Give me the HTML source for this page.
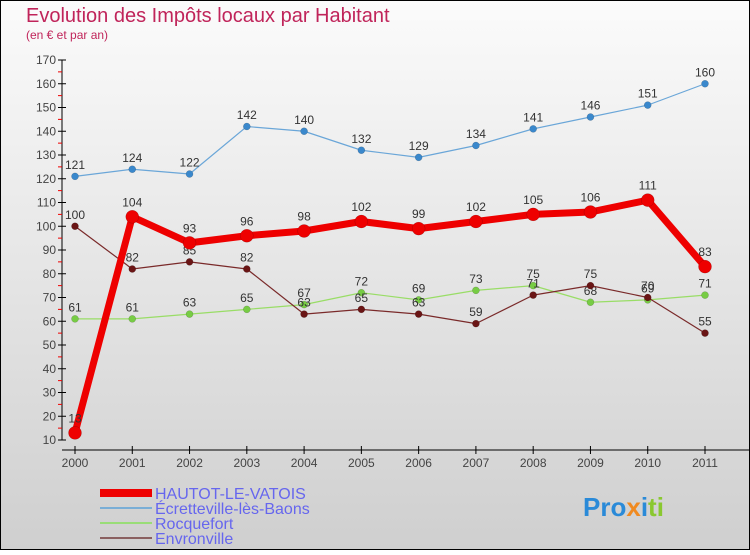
<!DOCTYPE html>
<html><head><meta charset="utf-8"><style>
body{margin:0}
#c{width:750px;height:550px;position:relative;font-family:"Liberation Sans",sans-serif}
</style></head><body>
<div id="c">
<svg id="s" width="750" height="550" xmlns="http://www.w3.org/2000/svg" font-family="Liberation Sans, sans-serif">
<defs><linearGradient id="bg" x1="0" y1="0" x2="0" y2="1"><stop offset="0" stop-color="#fbfbfb"/><stop offset="1" stop-color="#cfcfcf"/></linearGradient></defs>
<rect x="0.5" y="0.5" width="749" height="549" fill="url(#bg)" stroke="#000"/>
<text x="26" y="22" font-size="20" fill="#c0245a">Evolution des Impôts locaux par Habitant</text>
<text x="26" y="39" font-size="12" fill="#c0245a">(en € et par an)</text>
<g id="axes"></g><g id="series"></g>
<g>
<line x1="100" y1="493" x2="152" y2="493" stroke="#ee0000" stroke-width="8"/>
<text x="155" y="499" font-size="16" fill="#6666ee">HAUTOT-LE-VATOIS</text>
<line x1="100" y1="508" x2="152" y2="508" stroke="#7aaed6" stroke-width="2"/>
<text x="155" y="514" font-size="16" fill="#6666ee">Écretteville-lès-Baons</text>
<line x1="100" y1="523" x2="152" y2="523" stroke="#99dd77" stroke-width="2"/>
<text x="155" y="529" font-size="16" fill="#6666ee">Rocquefort</text>
<line x1="100" y1="538" x2="152" y2="538" stroke="#8a6060" stroke-width="2"/>
<text x="155" y="544" font-size="16" fill="#6666ee">Envronville</text>
</g>
<g font-size="26" font-weight="bold">
<text x="583" y="516"><tspan fill="#2a8ad8">Pro</tspan><tspan fill="#f08a20">x</tspan><tspan fill="#2a8ad8">i</tspan><tspan fill="#8ac830">ti</tspan></text>
</g>
</svg>
</div>
<script>
const years=[2000,2001,2002,2003,2004,2005,2006,2007,2008,2009,2010,2011];
const hautot=[13,104,93,96,98,102,99,102,105,106,111,83];
const ecret=[121,124,122,142,140,132,129,134,141,146,151,160];
const rocq=[61,61,63,65,67,72,69,73,75,68,69,71];
const envron=[100,82,85,82,63,65,63,59,71,75,70,55];
const yTicks=[10,20,30,40,50,60,70,80,90,100,110,120,130,140,150,160,170];
const NS="http://www.w3.org/2000/svg";
const x=i=>75+i*(630/(years.length-1));
const y=v=>440-(v-10)*380/160;
function mk(t,a,p){const e=document.createElementNS(NS,t);for(const k in a)e.setAttribute(k,a[k]);p.appendChild(e);return e;}
const ax=document.getElementById('axes');
let l=mk('line',{x1:62,y1:y(170),x2:62,y2:440,stroke:'#000'},ax);


l=mk('line',{x1:62,y1:450,x2:750,y2:450,stroke:'#000'},ax);


yTicks.forEach(v=>{
  mk('line',{x1:58,y1:y(v),x2:66,y2:y(v),stroke:'#000'},ax);
  if(v<170)mk('line',{x1:58,y1:y(v+5),x2:62,y2:y(v+5),stroke:'#e00'},ax);
  const t=mk('text',{x:56,y:y(v)+4,'font-size':12,fill:'#444','text-anchor':'end'},ax);
  t.textContent=v;
  
  
});
years.forEach((yr,i)=>{
  mk('line',{x1:x(i),y1:446,x2:x(i),y2:454,stroke:'#000'},ax);
  const t=mk('text',{x:x(i),y:467,'font-size':12,fill:'#444','text-anchor':'middle'},ax);
  t.textContent=yr;
  
  
});
const sg=document.getElementById('series');
function series(d,name,col,dot,w,r,fs){
  const g=mk('g',{},sg);
  
  
  const pl=mk('polyline',{points:d.map((v,i)=>x(i)+','+y(v)).join(' '),fill:'none',stroke:col,'stroke-width':w,'stroke-linejoin':'round'},g);
  
  
  d.forEach((v,i)=>{
    const c=mk('circle',{cx:x(i),cy:y(v),r:r,fill:dot,stroke:'rgba(0,0,0,0.25)','stroke-width':0.5},g);
    
    
    const t=mk('text',{x:x(i),y:y(v)-(r+4),'font-size':fs,fill:'#333','text-anchor':'middle'},g);
    t.textContent=v;
    
    
  });
}
series(ecret,'ecretteville','#6aa6d8','#3a88cc',1.2,3.5,12);
series(rocq,'rocquefort','#99dd66','#77cc44',1.2,3.5,12);
series(envron,'envronville','#7a2a2a','#6a1515',1.2,3.5,12);
series(hautot,'hautot','#ee0000','#ee0000',7,6.5,12);
</script>
</body></html>
